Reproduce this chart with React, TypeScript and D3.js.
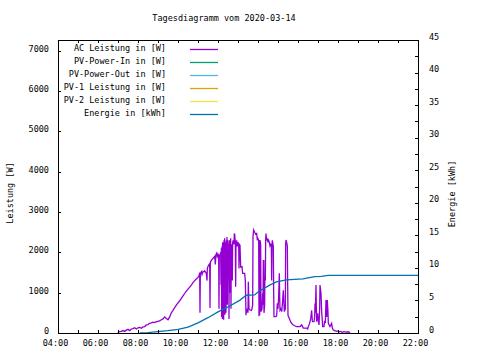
import React from "react";
import * as d3 from "d3";

const title = "Tagesdiagramm vom 2020-03-14";
const xTickLabels = ["04:00", "06:00", "08:00", "10:00", "12:00", "14:00", "16:00", "18:00", "20:00", "22:00"];
const leftTicks = [0, 1000, 2000, 3000, 4000, 5000, 6000, 7000];
const rightTicks = [0, 5, 10, 15, 20, 25, 30, 35, 40, 45];

const legendLabels = [
  "AC Leistung in [W]",
  "PV-Power-In in [W]",
  "PV-Power-Out in [W]",
  "PV-1 Leistung in [W]",
  "PV-2 Leistung in [W]",
  "Energie in [kWh]",
];
const legendColors = ["#9400d3", "#009e73", "#56b4e9", "#e69f00", "#f0e442", "#0072b2"];

// AC Leistung [W]
const acTimes = [
  "07:00","07:02","07:10","07:15","07:20","07:25","07:30","07:35","07:40","07:45","07:50","07:55",
  "08:00","08:05","08:10","08:15","08:20","08:25","08:30","08:35","08:40","08:45","08:50","08:55",
  "09:00","09:05","09:10","09:15","09:20","09:25","09:30","09:35","09:40","09:45","09:50","09:55",
  "10:00","10:05","10:10","10:15","10:20","10:25","10:30","10:35","10:40","10:45","10:50","10:55",
  "11:00","11:03","11:05","11:06","11:07","11:10","11:12","11:15","11:18","11:20","11:25","11:27","11:28",
  "11:30","11:33","11:35","11:36","11:37","11:40","11:45","11:48","11:50","11:52","11:54","11:56","11:58",
  "12:00","12:02","12:03","12:04","12:06","12:08","12:09","12:10","12:11","12:12","12:13","12:14","12:15",
  "12:16","12:17","12:18","12:19","12:20","12:21","12:22","12:23","12:24","12:25","12:26","12:27","12:28",
  "12:29","12:30","12:31","12:32","12:33","12:34","12:35","12:36","12:37","12:38","12:39","12:40","12:42",
  "12:43","12:44","12:46","12:48","12:49","12:50","12:52","12:53","12:54","12:56","12:58","13:00","13:02",
  "13:03","13:04","13:06","13:08","13:12","13:14","13:20","13:22","13:24","13:26","13:30","13:31","13:33",
  "13:36","13:40","13:42","13:44","13:45","13:47","13:50","13:53","13:56","13:58","14:00","14:02","14:03",
  "14:05","14:06","14:08","14:09","14:12","14:14","14:15","14:16","14:17","14:18","14:20","14:21","14:22",
  "14:23","14:24","14:26","14:28","14:30","14:32","14:34","14:36","14:38","14:40","14:41","14:42","14:43",
  "14:45","14:46","14:47","14:48","14:52","14:56","14:58","15:00","15:02","15:04","15:05","15:06","15:08",
  "15:11","15:13","15:16","15:18","15:19","15:22","15:23","15:24","15:26","15:28","15:29","15:30","15:32",
  "15:34","15:38","15:42","15:46","15:50","15:56","16:06","16:11","16:16","16:26","16:29","16:31","16:34",
  "16:36","16:38","16:41","16:43","16:44","16:48","16:50","16:51","16:52","16:54","16:55","16:56","16:59",
  "17:01","17:03","17:05","17:06","17:08","17:09","17:11","17:13","17:14","17:18","17:20","17:22","17:24",
  "17:26","17:28","17:30","17:31","17:36","17:41","17:43","17:46","17:50","17:56","18:00","18:04","18:08",
  "18:12","18:18","18:24","18:30","18:36",
];
const acValues = [
  0,30,40,60,40,70,90,60,100,110,130,100,
  130,140,120,150,160,200,210,240,250,270,260,280,
  290,300,330,350,400,360,330,400,500,560,630,690,
  750,800,860,920,980,1040,1090,1140,1190,1250,1300,1340,
  1380,1420,1500,500,1480,1520,1450,1530,1520,1540,1480,1300,1600,
  1650,1700,1720,620,1750,1800,1850,1880,1900,1700,1950,1980,1900,
  1950,1900,600,1950,1900,2000,1200,2100,400,2150,350,2250,600,
  2200,330,2300,900,2350,450,2250,2100,500,2300,1500,2380,700,
  2200,2300,1400,2200,350,2150,2300,1000,2250,2350,600,2200,2150,
  1300,2250,2300,2200,2470,2450,2250,1150,2200,2300,2150,2250,2200,
  1600,2200,2180,1640,1650,1480,1480,1300,440,600,500,1273,600,
  570,560,600,700,2400,2555,2500,2450,2470,2300,2340,2300,440,
  450,2308,2200,530,600,985,700,1810,1100,500,700,1810,1300,
  2300,2470,2300,2350,2250,2300,2250,2160,2200,2160,1300,2200,2300,
  2200,2140,1000,405,405,420,740,600,900,1480,900,570,600,
  530,700,1060,700,530,600,2200,2308,2250,2160,1200,440,400,
  360,276,230,200,180,160,160,200,120,120,100,160,220,
  280,350,560,300,280,280,400,730,500,1190,600,280,490,
  300,200,600,1190,1050,985,530,300,160,160,300,250,820,
  400,820,500,240,160,240,120,75,60,40,50,30,40,
  20,35,20,30,10,
];

// Energie [kWh]
const energyTimes = [
  "08:05","08:30","09:00","09:30","10:00","10:30","11:00","11:30","12:00","12:30","13:06","13:25",
  "13:50","14:00","14:35","14:55","15:25","16:15","16:50","17:10","17:30","22:00",
];
const energyValues = [
  0,0.05,0.2,0.35,0.55,0.9,1.55,2.35,3.25,4.0,5.05,5.8,
  5.85,6.3,7.35,7.85,8.15,8.3,8.65,8.7,8.86,8.86,
];

const W = 480;
const H = 360;
const M = { left: 58, right: 418, top: 40, bottom: 333 };
const FONT = "'DejaVu Sans Mono', monospace";
const FS = 8.5;

const toHours = (t: string) => {
  const [h, m] = t.split(":").map(Number);
  return h + m / 60;
};

export default function App() {
  const x = d3.scaleLinear().domain([4, 22]).range([M.left, M.right]);
  const yL = d3.scaleLinear().domain([0, 7270]).range([M.bottom, M.top]);
  const yR = d3.scaleLinear().domain([0, 45]).range([M.bottom, M.top]);

  const acData = acTimes.map((t, i) => [toHours(t), acValues[i]] as [number, number]);
  const enData = energyTimes.map((t, i) => [toHours(t), energyValues[i]] as [number, number]);

  const acLine = d3.line<[number, number]>().x((d) => x(d[0])).y((d) => yL(d[1]))(acData) || "";
  const enLine = d3.line<[number, number]>().x((d) => x(d[0])).y((d) => yR(d[1]))(enData) || "";

  const hourTicks = d3.range(4, 23, 1);
  const rightMinor = d3.range(0, 45.01, 2.5);
  const tl = 3;

  return (
    <svg width={W} height={H} style={{ position: "absolute", left: 0, top: 0, background: "#fff" }}
      fontFamily={FONT} fontSize={FS}>
      <rect x={0} y={0} width={W} height={H} fill="#fff" />
      <text x={224} y={21} textAnchor="middle">{title}</text>

      {/* data */}
      <path d={acLine} fill="none" stroke={legendColors[0]} strokeWidth={1.3} />
      <path d={enLine} fill="none" stroke={legendColors[5]} strokeWidth={1.3} />

      {/* border */}
      <rect x={M.left + 0.5} y={M.top + 0.5} width={M.right - M.left} height={M.bottom - M.top}
        fill="none" stroke="#000" strokeWidth={1} shapeRendering="crispEdges" />

      {/* x ticks */}
      {hourTicks.map((h) => (
        <g key={"xt" + h} shapeRendering="crispEdges">
          <line x1={Math.round(x(h)) + 0.5} x2={Math.round(x(h)) + 0.5} y1={M.bottom} y2={M.bottom - tl} stroke="#000" />
          <line x1={Math.round(x(h)) + 0.5} x2={Math.round(x(h)) + 0.5} y1={M.top} y2={M.top + tl} stroke="#000" />
        </g>
      ))}
      {xTickLabels.map((lab) => (
        <text key={"xl" + lab} x={x(toHours(lab)) - 2.5} y={346} textAnchor="middle">{lab}</text>
      ))}

      {/* left ticks */}
      {leftTicks.map((v) => (
        <g key={"lt" + v}>
          <line x1={M.left} x2={M.left + tl} y1={Math.round(yL(v)) + 0.5} y2={Math.round(yL(v)) + 0.5}
            stroke="#000" shapeRendering="crispEdges" />
          <text x={49} y={yL(v) + 1} textAnchor="end">{v}</text>
        </g>
      ))}

      {/* right ticks */}
      {rightMinor.map((v) => (
        <line key={"rt" + v} x1={M.right - tl} x2={M.right} y1={Math.round(yR(v)) + 0.5} y2={Math.round(yR(v)) + 0.5}
          stroke="#000" shapeRendering="crispEdges" />
      ))}
      {rightTicks.map((v) => (
        <text key={"rl" + v} x={429} y={yR(v) - 0.5}>{v}</text>
      ))}

      {/* axis titles */}
      <text transform={`translate(13,193) rotate(-90)`} textAnchor="middle">Leistung [W]</text>
      <text transform={`translate(455,194) rotate(-90)`} textAnchor="middle">Energie [kWh]</text>

      {/* legend */}
      {legendLabels.map((lab, i) => (
        <g key={"lg" + i}>
          <text x={166} y={50.5 + 13 * i} textAnchor="end">{lab}</text>
          <line x1={190} x2={218} y1={49.5 + 13 * i} y2={49.5 + 13 * i} stroke={legendColors[i]} strokeWidth={1.3} />
        </g>
      ))}
    </svg>
  );
}
